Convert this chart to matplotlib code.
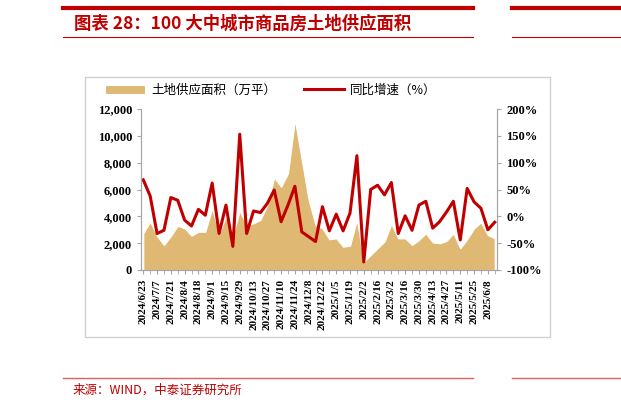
import numpy as np
import matplotlib.pyplot as plt
from matplotlib.lines import Line2D
from matplotlib.patches import Rectangle
from matplotlib.ticker import FuncFormatter, MultipleLocator

plt.rcParams['font.family'] = ['Noto Sans CJK SC', 'DejaVu Sans']

# 周度数据：2024/6/23 - 2025/6/15
supply = [2730, 3600, 2530, 1860, 2530, 3300, 3100, 2560, 2850, 2850,
          4600, 2700, 4000, 2600, 4400, 3350, 3480, 3730, 4840, 6880,
          6200, 7200, 11180, 8200, 5200, 3350, 3100, 2290, 2360, 1740,
          1810, 3730, 620, 1120, 1620, 2110, 3430, 2360, 2360, 1860,
          2235, 2730, 2060, 1990, 2160, 2730, 1620, 2290, 3100, 3550,
          2600, 2360]
growth = [68, 38, -32, -26, 35, 30, -7, -18, 13, 2,
          62, -32, 21, -56, 153, -32, 10, 7, 24, 49,
          -10, 21, 56, -29, -38, -47, 18, -27, 4, -27,
          6, 113, -85, 50, 58, 40, 63, -32, 1, -26,
          21, 28, -22, -10, 8, 28, -44, 52, 27, 15,
          -25, -11]
tick_labels = ['2024/6/23', '2024/7/7', '2024/7/21', '2024/8/4', '2024/8/18',
               '2024/9/1', '2024/9/15', '2024/9/29', '2024/10/13', '2024/10/27',
               '2024/11/10', '2024/11/24', '2024/12/8', '2024/12/22', '2025/1/5',
               '2025/1/19', '2025/2/2', '2025/2/16', '2025/3/2', '2025/3/16',
               '2025/3/30', '2025/4/13', '2025/4/27', '2025/5/11', '2025/5/25',
               '2025/6/8']

red = '#C00000'
tan = '#DFB974'
grey = '#A6A6A6'
serif_b = dict(family='Liberation Serif', weight='bold')

W, H = 621, 409
fig = plt.figure(figsize=(W / 100, H / 100), dpi=100)

def fx(px):
    return px / W

def fy(py):
    return 1 - py / H

# 标题与装饰线
fig.add_artist(Line2D([fx(63), fx(473)], [fy(8), fy(8)], color=red, lw=3))
fig.add_artist(Line2D([fx(512), fx(621)], [fy(8), fy(8)], color=red, lw=3))
fig.add_artist(Line2D([fx(63), fx(473)], [fy(37), fy(37)], color=red, lw=0.8))
fig.add_artist(Line2D([fx(512), fx(621)], [fy(37), fy(37)], color=red, lw=0.8))
fig.text(fx(74), fy(24), '图表 28：100 大中城市商品房土地供应面积', color=red,
         fontsize=12.5, fontweight='bold', va='center', ha='left')

fig.add_artist(Line2D([fx(63), fx(473)], [fy(378), fy(378)], color='#E06060', lw=1))
fig.add_artist(Line2D([fx(512), fx(621)], [fy(378), fy(378)], color='#E06060', lw=1))
fig.text(fx(73), fy(390), '来源：WIND，中泰证券研究所', color=red, fontsize=9,
         va='center', ha='left')

# 图表外框
fig.add_artist(Rectangle((fx(85), fy(337)), fx(550) - fx(85), fy(77) - fy(337),
                         transform=fig.transFigure, fill=False,
                         edgecolor='#D0D0D0', lw=1))

ax = fig.add_axes([fx(141), fy(270), fx(497) - fx(141), fy(109) - fy(270)])
x = np.arange(len(supply))
area = ax.fill_between(x, supply, 0, color=tan, edgecolor='white', lw=0.8,
                       label='土地供应面积（万平）')
ax.set_ylim(0, 12000)
ax.set_xlim(-0.33, len(supply) - 0.67)
ax.yaxis.set_major_locator(MultipleLocator(2000))
ax.yaxis.set_major_formatter(FuncFormatter(lambda v, p: f'{int(v):,}'))

ax2 = ax.twinx()
line, = ax2.plot(x, growth, color=red, lw=2.2, label='同比增速（%）')
ax2.set_ylim(-100, 200)
ax2.yaxis.set_major_locator(MultipleLocator(50))
ax2.yaxis.set_major_formatter(FuncFormatter(lambda v, p: f'{int(v)}%'))

ax.set_xticks(x[::2])
ax.set_xticks(x, minor=True)
ax.set_xticklabels(tick_labels, rotation=90, fontsize=8, **serif_b)
for a in (ax, ax2):
    a.spines['top'].set_visible(False)
    for s in a.spines.values():
        s.set_color(grey)
    a.tick_params(colors=grey, labelcolor='black', length=3, width=0.8)
    a.tick_params(axis='x', which='minor', length=3, color=grey)
for lab in ax.get_yticklabels() + ax2.get_yticklabels():
    lab.set_fontsize(9)
    lab.set_fontfamily('Liberation Serif')
    lab.set_fontweight('bold')

fig.legend(handles=[area, line], loc='center left',
           bbox_to_anchor=(fx(100), fy(90)), ncol=2, frameon=False,
           fontsize=9, handlelength=3.2, handletextpad=0.5, columnspacing=2.2,
           borderaxespad=0)

fig.savefig('out.png', dpi=100)
